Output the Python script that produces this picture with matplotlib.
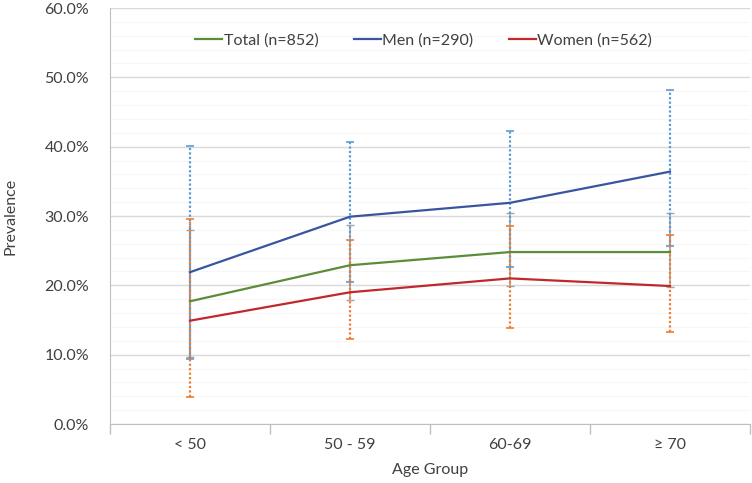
import matplotlib.pyplot as plt
from matplotlib.ticker import MultipleLocator, FuncFormatter
import numpy as np

plt.rcParams['font.family'] = ['Lato', 'DejaVu Sans']

groups = ['< 50', '50 - 59', '60-69', '\u2265 70']

total = [17.7, 22.9, 24.8, 24.8]
total_lo = [9.6, 17.9, 19.9, 19.7]
total_hi = [28.0, 28.7, 30.4, 30.5]

men = [21.9, 29.9, 31.9, 36.4]
men_lo = [9.4, 20.5, 22.7, 25.7]
men_hi = [40.1, 40.7, 42.3, 48.2]

women = [14.9, 19.0, 21.0, 19.9]
women_lo = [3.9, 12.3, 13.9, 13.2]
women_hi = [29.6, 26.6, 28.6, 27.3]

labels = ['Total (n=852)', 'Men (n=290)', 'Women (n=562)']


def err(v, lo, hi):
    v = np.array(v)
    return [v - np.array(lo), np.array(hi) - v]


fig = plt.figure(figsize=(7.52, 4.83), dpi=100)
ax = fig.add_axes([110 / 752, 1 - 424 / 483, 640 / 752, 416 / 483])
x = np.arange(len(groups))

# error bars first, lines on top
ax.errorbar(x, total, yerr=err(total, total_lo, total_hi), fmt='none',
            ecolor='#A5A5A5', elinewidth=1.2, capsize=3, capthick=1, zorder=3)
eb = ax.errorbar(x, men, yerr=err(men, men_lo, men_hi), fmt='none',
                 ecolor='#5B9BD5', elinewidth=1.6, capsize=3, capthick=1.2, zorder=4)
eb[2][0].set_linestyle((0, (1, 1)))
eb = ax.errorbar(x, women, yerr=err(women, women_lo, women_hi), fmt='none',
                 ecolor='#ED7D31', elinewidth=1.6, capsize=3, capthick=1.2, zorder=4)
eb[2][0].set_linestyle((0, (1, 1)))

ax.plot(x, total, color='#5B8C3A', lw=1.6, label=labels[0], zorder=5)
ax.plot(x, men, color='#3A55A0', lw=1.6, label=labels[1], zorder=5)
ax.plot(x, women, color='#C0282D', lw=1.6, label=labels[2], zorder=5)

ax.set_xlim(-0.5, 3.5)
ax.set_ylim(0, 60)
ax.yaxis.set_major_locator(MultipleLocator(10))
ax.yaxis.set_minor_locator(MultipleLocator(2))
ax.yaxis.set_major_formatter(FuncFormatter(lambda v, p: '%.1f%%' % v))
ax.grid(axis='y', which='major', color='#D9D9D9', lw=1)
ax.grid(axis='y', which='minor', color='#F7F7F7', lw=0.8)
ax.set_axisbelow(True)

ax.set_xticks(x)
ax.set_xticklabels(groups)
ax.set_xticks(np.arange(-0.5, 4, 1), minor=True)
ax.tick_params(axis='x', which='major', length=0, pad=10, labelsize=11.5, colors='#404040')
ax.tick_params(axis='x', which='minor', length=7, color='#BFBFBF', width=1)
ax.tick_params(axis='y', which='both', length=0, pad=15, labelsize=11.5, colors='#404040')

for s in ['top', 'right']:
    ax.spines[s].set_visible(False)
for s in ['left', 'bottom']:
    ax.spines[s].set_color('#BFBFBF')

ax.set_xlabel('Age Group', fontsize=11.5, color='#404040', labelpad=8)
ax.set_ylabel('Prevalence', fontsize=11.5, color='#404040', labelpad=10)
ax.yaxis.set_label_coords(-0.145, 0.5)

ax.legend(loc='center', bbox_to_anchor=(0.49, 0.922), ncol=3, frameon=False,
          fontsize=11.5, handlelength=1.7, handletextpad=0.1, columnspacing=2.2,
          labelcolor='#404040')

fig.savefig('out.png', dpi=100)
